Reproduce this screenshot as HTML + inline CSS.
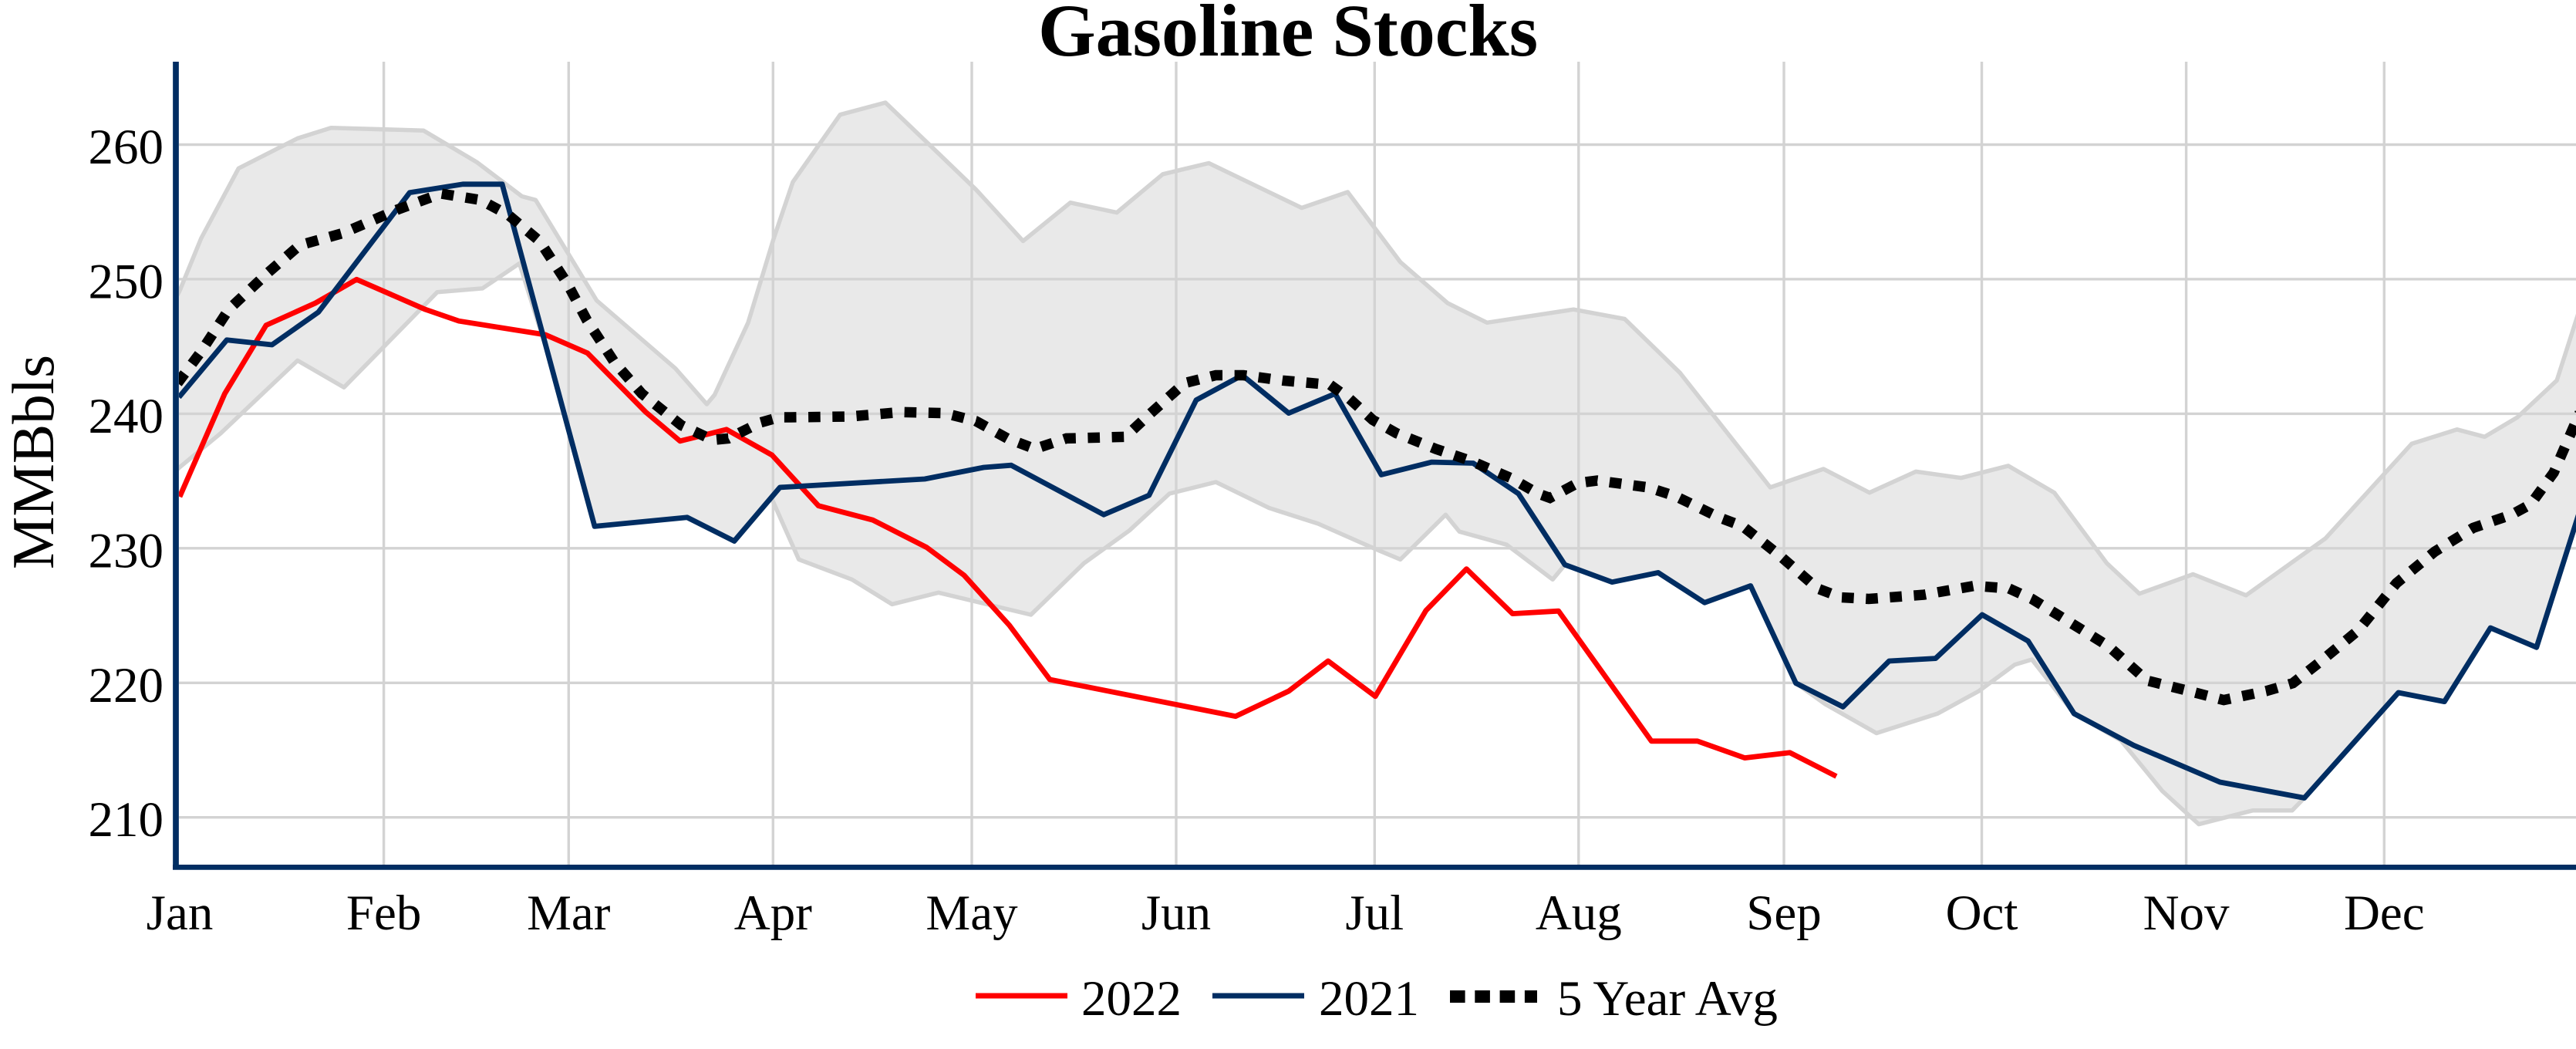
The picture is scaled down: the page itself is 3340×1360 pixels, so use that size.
<!DOCTYPE html>
<html>
<head>
<meta charset="utf-8">
<style>
html,body{margin:0;padding:0;background:#fff;}
svg{display:block;}
text{font-family:"Liberation Serif","Times New Roman",serif;fill:#000;}
</style>
</head>
<body>
<svg width="3340" height="1360" viewBox="0 0 3340 1360" xmlns="http://www.w3.org/2000/svg">
<defs>
<clipPath id="pc"><rect x="232" y="80" width="3108" height="1041"/></clipPath>
</defs>
<rect width="3340" height="1360" fill="#fff"/>

<!-- gridlines -->
<g stroke="#d3d3d3" stroke-width="3.4" fill="none">
<line x1="232" y1="187.5" x2="3340" y2="187.5"/>
<line x1="232" y1="361.9" x2="3340" y2="361.9"/>
<line x1="232" y1="536.4" x2="3340" y2="536.4"/>
<line x1="232" y1="710.8" x2="3340" y2="710.8"/>
<line x1="232" y1="885.3" x2="3340" y2="885.3"/>
<line x1="232" y1="1059.7" x2="3340" y2="1059.7"/>
<line x1="497.6" y1="80" x2="497.6" y2="1121"/>
<line x1="737.3" y1="80" x2="737.3" y2="1121"/>
<line x1="1002.3" y1="80" x2="1002.3" y2="1121"/>
<line x1="1260" y1="80" x2="1260" y2="1121"/>
<line x1="1525" y1="80" x2="1525" y2="1121"/>
<line x1="1782.3" y1="80" x2="1782.3" y2="1121"/>
<line x1="2046.8" y1="80" x2="2046.8" y2="1121"/>
<line x1="2313" y1="80" x2="2313" y2="1121"/>
<line x1="2569.5" y1="80" x2="2569.5" y2="1121"/>
<line x1="2834.6" y1="80" x2="2834.6" y2="1121"/>
<line x1="3091.3" y1="80" x2="3091.3" y2="1121"/>
</g>

<g clip-path="url(#pc)">
<!-- band fill -->
<polygon fill="rgba(211,211,211,0.5)" stroke="none" points="
226,390 232.8,377.3 260.8,309 309.3,218.3 385.8,179.4 429.2,165.8 549.1,169.2 618,210.1 676.6,254.5 694.5,259.3 745.5,343.2 773.6,389.6 875.6,477.6 916.4,524 926.6,511.8 970,418.3 1003.2,309.1 1028,236 1089.3,148.7 1148,133 1214.3,196.5 1265.3,245.6 1326.5,312.5 1387.8,262.7 1448,275.6 1507.7,225.8 1567.3,211.5 1687.8,269.5 1747.4,249 1815.7,339.8 1877,393 1928,418.3 2040.2,401.2 2106.5,413.5 2178,483.1 2295.3,631.9 2364.2,608 2423.9,638.7 2484.1,611.4 2542.8,619.6 2603.8,603.9 2663.5,638.7 2731.6,730.1 2773.9,769.7 2843.5,744.5 2912.2,771.8 3015.2,698 3127.1,575.2 3185.8,556.8 3221.6,566.3 3263.9,541.1 3315.1,493.3 3345,400
3345,660 3288.8,839.3 3229.1,814 3169.4,909.6 3109.7,898 2987.8,1034.5 2971.9,1050.8 2920.7,1050.8 2851,1068.6 2803.7,1025.6 2750,960 2689.3,925.3 2634.6,855 2612.2,861.8 2565.7,896 2512,925.3 2433,950.5 2366.7,913 2328.5,885.7 2269.8,759.5 2210.1,781.3 2149.9,742.4 2090.2,754.7 2029,732.2 2013.2,751.3 1953.5,706.2 1892.2,689.2 1874.4,667.3 1815.7,725.3 1783.2,711.7 1709.2,679 1645.4,658.5 1576.5,625 1516.3,640 1464.3,687.8 1405.6,730.1 1336.7,797 1216.8,768.3 1156.6,783.4 1104.6,751.3 1035.7,725.3 1000,645 952,701.5 891,670.8 771,682.4 711,460.6 673.5,341.5 625.6,373.9 567,378.7 446,502.2 385.8,467.4 286.3,561.6 232.8,605.9 226,612"/>
<!-- band lines -->
<g stroke="#d3d3d3" stroke-width="5.5" fill="none" stroke-linejoin="round">
<polyline points="226,390 232.8,377.3 260.8,309 309.3,218.3 385.8,179.4 429.2,165.8 549.1,169.2 618,210.1 676.6,254.5 694.5,259.3 745.5,343.2 773.6,389.6 875.6,477.6 916.4,524 926.6,511.8 970,418.3 1003.2,309.1 1028,236 1089.3,148.7 1148,133 1214.3,196.5 1265.3,245.6 1326.5,312.5 1387.8,262.7 1448,275.6 1507.7,225.8 1567.3,211.5 1687.8,269.5 1747.4,249 1815.7,339.8 1877,393 1928,418.3 2040.2,401.2 2106.5,413.5 2178,483.1 2295.3,631.9 2364.2,608 2423.9,638.7 2484.1,611.4 2542.8,619.6 2603.8,603.9 2663.5,638.7 2731.6,730.1 2773.9,769.7 2843.5,744.5 2912.2,771.8 3015.2,698 3127.1,575.2 3185.8,556.8 3221.6,566.3 3263.9,541.1 3315.1,493.3 3345,400"/>
<polyline points="226,612 232.8,605.9 286.3,561.6 385.8,467.4 446,502.2 567,378.7 625.6,373.9 673.5,341.5 711,460.6 771,682.4 891,670.8 952,701.5 1000,645 1035.7,725.3 1104.6,751.3 1156.6,783.4 1216.8,768.3 1336.7,797 1405.6,730.1 1464.3,687.8 1516.3,640 1576.5,625 1645.4,658.5 1709.2,679 1783.2,711.7 1815.7,725.3 1874.4,667.3 1892.2,689.2 1953.5,706.2 2013.2,751.3 2029,732.2 2090.2,754.7 2149.9,742.4 2210.1,781.3 2269.8,759.5 2328.5,885.7 2366.7,913 2433,950.5 2512,925.3 2565.7,896 2612.2,861.8 2634.6,855 2689.3,925.3 2750,960 2803.7,1025.6 2851,1068.6 2920.7,1050.8 2971.9,1050.8 2987.8,1034.5 3109.7,898 3169.4,909.6 3229.1,814 3288.8,839.3 3345,660"/>
</g>

<!-- 2022 -->
<polyline fill="none" stroke="#ff0000" stroke-width="6.8" stroke-linejoin="round" points="233,644 291.4,510.4 345,421.7 408.8,393 462.3,362.3 551.6,401.2 595,416.2 707.2,434 761.8,457.8 837.3,534.3 881.7,571.8 942,556.8 1001,590 1061.2,655.7 1131.6,674.2 1201.5,709.7 1250,745.8 1308.7,810.6 1361.2,881 1602,928.7 1670.9,896 1722,857 1783.2,902.8 1848.9,791.5 1901.4,737.6 1961.1,795.6 2020.8,792.2 2141.2,960.8 2200.9,960.8 2262.1,982.6 2320.8,975.8 2381,1006.5"/>

<!-- 2021 -->
<polyline fill="none" stroke="#002d62" stroke-width="6.8" stroke-linejoin="round" points="232,515 294,440.8 352.7,447 412.9,404.6 531.2,249.7 600,238.8 651.1,238.8 771,682.4 891,670.8 952,701.5 1011.2,631.9 1199,621 1275.5,606 1311.2,603.2 1431.1,667.3 1489.8,642.1 1551,518.6 1610.7,486.5 1670.9,535.6 1731.1,510.4 1791,615.5 1856.5,599.1 1910.1,600.5 1968.8,640 2029,732.2 2090.2,754.7 2149.9,742.4 2210.1,781.3 2269.8,759.5 2328.5,885.7 2389.7,916.4 2449.4,857 2509.6,853.6 2570,797 2629.6,831.1 2689.3,925.3 2766.4,966.2 2878.4,1014 2987.8,1034.5 3109.7,898 3169.4,909.6 3229.1,814 3288.8,839.3 3345,662"/>

<!-- 5 year avg -->
<polyline fill="none" stroke="#000" stroke-width="13.5" stroke-dasharray="15.6,15.6" points="230.2,496.7 260.8,455.8 296.5,401.2 347.6,353.4 388.4,318 444.5,302.3 515.9,271.5 572,251 623,259.3 658.8,278.4 699.6,312.5 735.3,367.1 760.8,414.9 796.5,469.4 832.2,510.4 883.3,551.3 924,570.4 944.5,568.4 985.3,548 1010,541 1025.5,541 1102,540 1168.4,534.3 1224.5,535.6 1265.3,545.9 1306.1,568.4 1341.8,582 1382.7,568.4 1459.2,566.3 1489.8,537.7 1535.7,496.7 1576.5,486.5 1612.2,486.5 1663.3,493.3 1724.5,498.8 1750,517.2 1780,544.5 1810.6,561.6 1861.6,582 1907.6,597.7 1958.6,619.6 1994.3,640 2009.6,645.5 2045.3,626.4 2070.8,623 2137.1,631.9 2172.9,643.5 2229,670.8 2259.6,682.4 2305.5,718.5 2356.5,762.9 2387.1,774.5 2422.9,776.5 2494.3,771.1 2560,759.5 2604.8,762.9 2634.6,776.5 2684.4,807.2 2734.1,838 2783.8,882.3 2838.6,896 2883.3,907.6 2938.1,896 2972.9,885.7 3007.7,858.4 3057.4,817.5 3107.2,756 3156.9,715.1 3206.7,684.4 3256.4,667.3 3281.3,653.7 3311.1,612.7 3345,535"/>
</g>

<!-- axes -->
<line x1="228" y1="80" x2="228" y2="1127.5" stroke="#002d62" stroke-width="7.7"/>
<line x1="224" y1="1124.4" x2="3340" y2="1124.4" stroke="#002d62" stroke-width="6.8"/>

<!-- y tick labels -->
<g font-size="65" text-anchor="end">
<text x="212" y="212">260</text>
<text x="212" y="386.4">250</text>
<text x="212" y="560.9">240</text>
<text x="212" y="735.3">230</text>
<text x="212" y="909.8">220</text>
<text x="212" y="1084.2">210</text>
</g>

<!-- x tick labels -->
<g font-size="65" text-anchor="middle">
<text x="233" y="1205">Jan</text>
<text x="497.6" y="1205">Feb</text>
<text x="737.3" y="1205">Mar</text>
<text x="1002.3" y="1205">Apr</text>
<text x="1260" y="1205">May</text>
<text x="1525" y="1205">Jun</text>
<text x="1782.3" y="1205">Jul</text>
<text x="2046.8" y="1205">Aug</text>
<text x="2313" y="1205">Sep</text>
<text x="2569.5" y="1205">Oct</text>
<text x="2834.6" y="1205">Nov</text>
<text x="3091.3" y="1205">Dec</text>
</g>

<!-- y axis title -->
<text x="0" y="0" font-size="77" text-anchor="middle" transform="translate(69,599) rotate(-90)">MMBbls</text>

<!-- title -->
<text x="1670" y="72" font-size="96" font-weight="bold" text-anchor="middle">Gasoline Stocks</text>

<!-- legend -->
<line x1="1265" y1="1291" x2="1384" y2="1291" stroke="#ff0000" stroke-width="7"/>
<text x="1402" y="1316" font-size="65">2022</text>
<line x1="1572" y1="1291" x2="1691" y2="1291" stroke="#002d62" stroke-width="7"/>
<text x="1710" y="1316" font-size="65">2021</text>
<line x1="1880" y1="1292" x2="1993" y2="1292" stroke="#000" stroke-width="16" stroke-dasharray="19.6,12.7"/>
<text x="2019" y="1316" font-size="65">5 Year Avg</text>
</svg>
</body>
</html>
